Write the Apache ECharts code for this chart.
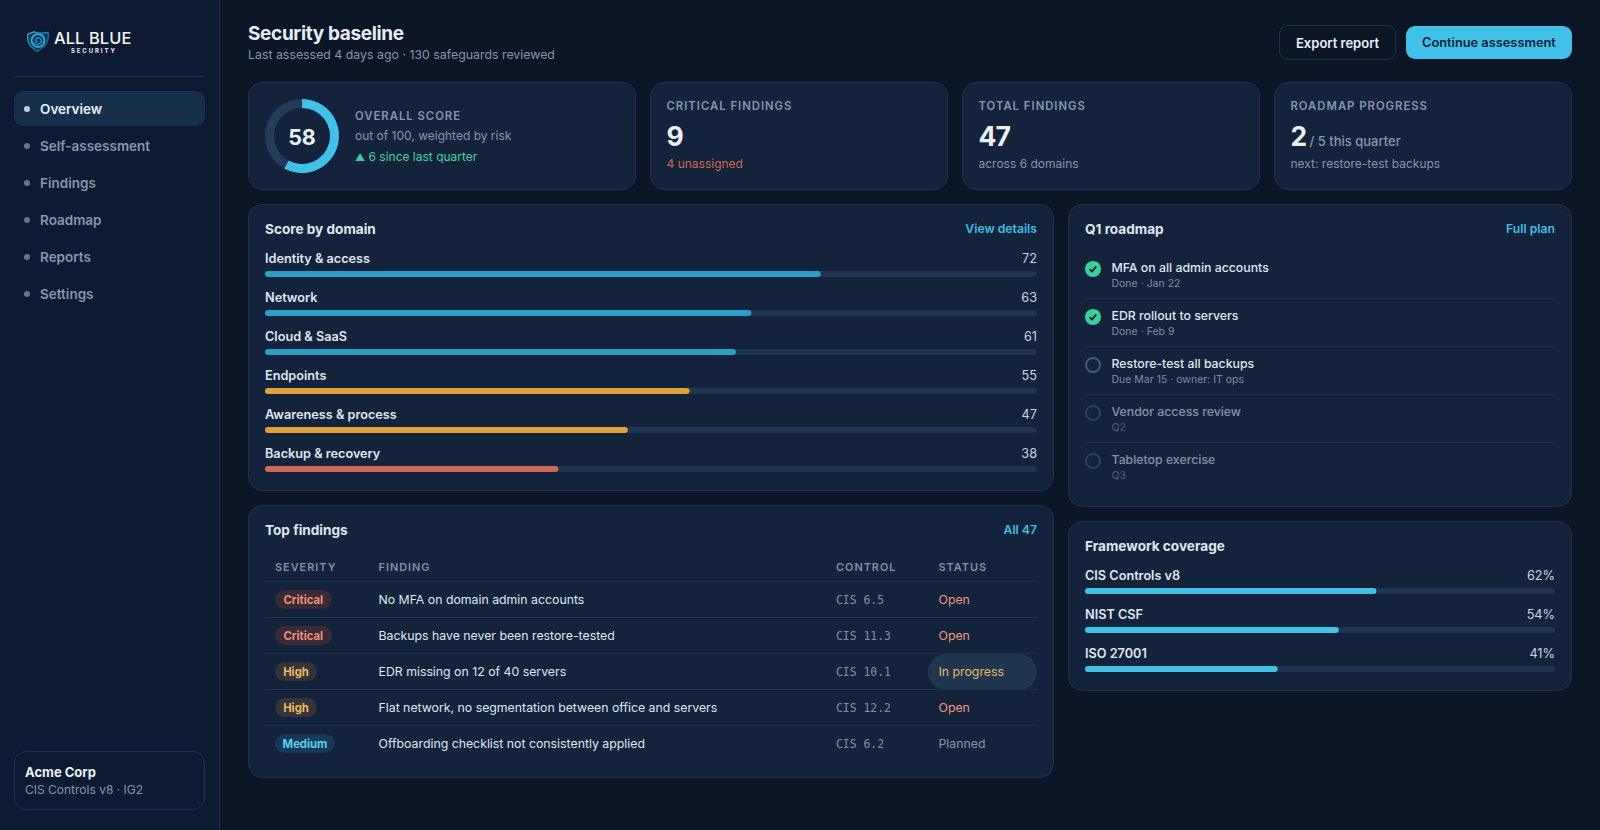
<!DOCTYPE html>
<html lang="en">
<head>
<meta charset="UTF-8">
<title>Security baseline</title>
<script src="https://cdn.jsdelivr.net/npm/echarts@6/dist/echarts.min.js"></script>
<style>
	html, body { margin: 0; padding: 0; background: #0a1526; overflow: hidden; }
	#page { position: relative; width: 1600px; height: 830px; overflow: hidden; font-family: Inter, "Noto Sans", sans-serif; color: #dfe7f2; background: #0a1526; }
	#page div, #page svg { position: absolute; }
	#page div { white-space: nowrap; }
	.t { line-height: 20px; height: 20px; }
	.side { left: 0; top: 0; width: 219px; height: 830px; background: #0c1b31; border-right: 1px solid #1b2c45; }
	.card { background: #12233b; border: 1px solid #1d3350; border-radius: 14px; box-sizing: border-box; }
	.h1 { font-size: 19px; font-weight: 700; letter-spacing: -0.35px; color: #e6edf6; }
	.sub { font-size: 12.35px; color: #8596ad; }
	.cap { font-size: 11.3px; font-weight: 600; letter-spacing: 1px; color: #8596ad; }
	.big { font-size: 26.5px; font-weight: 700; letter-spacing: -1px; color: #eaf0f8; line-height: 30px; height: 30px; }
	.small { font-size: 12px; color: #8596ad; }
	.sec { font-size: 13.6px; font-weight: 700; color: #dfe7f2; }
	.link { font-size: 12.2px; font-weight: 600; color: #3fbfe6; }
	.nav { font-size: 13.5px; font-weight: 600; color: #8596ad; }
	.th { font-size: 10.9px; font-weight: 600; letter-spacing: 1px; color: #8091a8; }
	.td { font-size: 12.3px; color: #dfe7f2; }
	.mono { font-family: "DejaVu Sans Mono", monospace; font-size: 11.4px; color: #8091a8; }
	.pill { font-size: 11.3px; font-weight: 700; height: 19px; line-height: 20px; border-radius: 10px; text-align: center; }
	.line { height: 1px; background: #1d3350; }
	.rt { font-size: 12.3px; font-weight: 500; color: #dfe7f2; }
	.rs { font-size: 10.5px; color: #7d8ea6; }
</style>
</head>
<body>
<div id="page"></div>
<script>
// data
var navItems = ['Overview', 'Self-assessment', 'Findings', 'Roadmap', 'Reports', 'Settings'];
var overallScore = 58;
var domainNames = ['Identity & access', 'Network', 'Cloud & SaaS', 'Endpoints', 'Awareness & process', 'Backup & recovery'];
var domainScores = [72, 63, 61, 55, 47, 38];
var frameworkNames = ['CIS Controls v8', 'NIST CSF', 'ISO 27001'];
var frameworkCoverage = [62, 54, 41];
var findingSeverity = ['Critical', 'Critical', 'High', 'High', 'Medium'];
var findingTitles = ['No MFA on domain admin accounts', 'Backups have never been restore-tested', 'EDR missing on 12 of 40 servers', 'Flat network, no segmentation between office and servers', 'Offboarding checklist not consistently applied'];
var findingControls = ['CIS 6.5', 'CIS 11.3', 'CIS 10.1', 'CIS 12.2', 'CIS 6.2'];
var findingStatus = ['Open', 'Open', 'In progress', 'Open', 'Planned'];
var roadmapTitles = ['MFA on all admin accounts', 'EDR rollout to servers', 'Restore-test all backups', 'Vendor access review', 'Tabletop exercise'];
var roadmapNotes = ['Done · Jan 22', 'Done · Feb 9', 'Due Mar 15 · owner: IT ops', 'Q2', 'Q3'];
var roadmapState = ['done', 'done', 'open', 'later', 'later'];

var page = document.getElementById('page');

function box(cls, x, y, w, h, css) {
	var d = document.createElement('div');
	d.className = cls;
	d.style.cssText = 'left:' + x + 'px;top:' + y + 'px;width:' + w + 'px;height:' + h + 'px;' + (css || '');
	page.appendChild(d);
	return d;
}
// text centred vertically on cy
function txt(cls, s, x, cy, css) {
	var d = document.createElement('div');
	d.className = 't ' + cls;
	d.style.cssText = 'left:' + x + 'px;top:' + (cy - 10) + 'px;' + (css || '');
	d.innerHTML = s;
	page.appendChild(d);
	return d;
}
function txtR(cls, s, xr, cy, css) {
	return txt(cls, s, 0, cy, 'left:auto;right:' + (1600 - xr) + 'px;' + (css || ''));
}

// sidebar
box('side', 0, 0, 219, 830);
page.insertAdjacentHTML('beforeend',
	'<svg style="left:26px;top:30px" width="24" height="23" viewBox="0 0 26 24">' +
	'<defs><linearGradient id="sg" x1="0" y1="0" x2="1" y2="1"><stop offset="0" stop-color="#2fb6e4"/><stop offset="1" stop-color="#0d4f82"/></linearGradient></defs>' +
	'<path d="M2 4 L9 1.5 Q15 4 24 2 Q25 12 20 17 L12 23 L5 17 Q1 12 2 4 Z" fill="#0e3354" stroke="url(#sg)" stroke-width="1.4"/>' +
	'<circle cx="13" cy="11" r="7" fill="none" stroke="#2fb0dc" stroke-width="2"/>' +
	'<path d="M8 13 Q13 18 17 12 Q16 7 12 8 Q9 10 12 13" fill="none" stroke="#1d8fc0" stroke-width="1.6"/></svg>');
txt('', 'ALL BLUE', 54, 38, 'font-size:16.4px;font-weight:500;color:#f2f5fa;letter-spacing:0.1px');
txt('', 'SECURITY', 71, 50.5, 'font-size:6px;font-weight:700;color:#e6edf6;letter-spacing:1.9px');
box('line', 14, 76, 191, 1, 'background:#1d3350');
box('', 14, 91, 191, 35, 'background:#15304a;border-radius:9px');
navItems.forEach(function (n, i) {
	var cy = 109 + i * 37;
	box('', 24, cy - 3, 6, 6, 'border-radius:50%;background:' + (i === 0 ? '#c4cdd9' : '#64758c'));
	txt('nav', n, 40, cy, i === 0 ? 'color:#eaf0f8' : '');
});
box('', 14, 751, 191, 59, 'border:1px solid #1d3350;border-radius:12px;box-sizing:border-box');
txt('', 'Acme Corp', 25, 772, 'font-size:13px;font-weight:700;color:#eaf0f8');
txt('small', 'CIS Controls v8 · IG2', 25, 789.5);

// header
txt('h1', 'Security baseline', 248, 34);
txt('sub', 'Last assessed 4 days ago · 130 safeguards reviewed', 248, 55);
box('', 1279, 25, 117, 35, 'border:1px solid #1d3350;border-radius:9px;box-sizing:border-box');
txt('', 'Export report', 1296, 42.5, 'font-size:13px;font-weight:600;color:#eaf0f8');
box('', 1406, 26, 166, 33, 'background:#41c0e8;border-radius:9px');
txt('', 'Continue assessment', 1422, 42.5, 'font-size:12.8px;font-weight:600;color:#0b2238');

// stat cards
box('card', 248, 82, 388, 108);
box('', 265, 99, 74, 74).id = 'donut';
txt('cap', 'OVERALL SCORE', 355, 115.7);
txt('small', 'out of 100, weighted by risk', 355, 135.5);
txt('small', '<span style="font-size:10px">▲</span> 6 since last quarter', 355, 156.5, 'color:#46cf9e');

box('card', 650, 82, 298, 108);
txt('cap', 'CRITICAL FINDINGS', 666.5, 105.7);
txt('big', '9', 666.5, 130.7);
txt('small', '4 unassigned', 666.5, 163.5, 'color:#cc6a55');

box('card', 962, 82, 298, 108);
txt('cap', 'TOTAL FINDINGS', 978.5, 105.7);
txt('big', '47', 978.5, 130.7);
txt('small', 'across 6 domains', 978.5, 163.5);

box('card', 1274, 82, 298, 108);
txt('cap', 'ROADMAP PROGRESS', 1290.5, 105.7);
txt('big', '2 <span style="font-size:13px;font-weight:500;letter-spacing:0;color:#8596ad;margin-left:-2px">/ 5 this quarter</span>', 1290.5, 130.7);
txt('small', 'next: restore-test backups', 1290.5, 163.5);

// score by domain
box('card', 248, 204, 806, 287);
txt('sec', 'Score by domain', 265, 229);
txtR('link', 'View details', 1037, 229);
box('', 265, 235, 772, 250).id = 'domainChart';

// top findings
box('card', 248, 505, 806, 273);
txt('sec', 'Top findings', 265, 530);
txtR('link', 'All 47', 1037, 530);
txt('th', 'SEVERITY', 275, 567);
txt('th', 'FINDING', 378.5, 567);
txt('th', 'CONTROL', 836, 567);
txt('th', 'STATUS', 938.5, 567);
var pillStyle = {
	Critical: { w: 56.5, bg: '#3a2a37', fg: '#f08f7c' },
	High: { w: 42, bg: '#34343a', fg: '#ecb95f' },
	Medium: { w: 60, bg: '#143a55', fg: '#5fcdf0' }
};
var statusColor = { 'Open': '#ef9a83', 'In progress': '#ecb95f', 'Planned': '#8596ad' };
box('line', 265, 581, 772, 1);
findingTitles.forEach(function (f, i) {
	var cy = 599.5 + i * 36;
	if (i < 4) box('line', 265, 617 + i * 36, 772, 1);
	var p = pillStyle[findingSeverity[i]];
	var pill = box('pill', 275, cy - 9.5, p.w, 19, 'background:' + p.bg + ';color:' + p.fg);
	pill.textContent = findingSeverity[i];
	txt('td', f, 378.5, cy + 0.5);
	txt('mono', findingControls[i], 836, cy);
	if (findingStatus[i] === 'In progress') box('', 928, cy - 18, 109, 36, 'background:#1f3650;border-radius:18px');
	txt('td', findingStatus[i], 938.5, cy + 0.5, 'color:' + statusColor[findingStatus[i]]);
});

// Q1 roadmap
box('card', 1068, 204, 504, 303);
txt('sec', 'Q1 roadmap', 1085, 229);
txtR('link', 'Full plan', 1555, 229);
roadmapTitles.forEach(function (r, i) {
	var cy = 269 + i * 48;
	var st = roadmapState[i];
	var icon;
	if (st === 'done') {
		icon = '<circle cx="9" cy="9" r="8" fill="#3fcf9c"/><path d="M5.6 9.2 L8 11.6 L12.2 6.4" fill="none" stroke="#0b2238" stroke-width="1.7"/>';
	} else {
		icon = '<circle cx="9" cy="9" r="7" fill="none" stroke="' + (st === 'open' ? '#3f5d78' : '#2a4460') + '" stroke-width="2"/>';
	}
	page.insertAdjacentHTML('beforeend', '<svg style="left:1084px;top:' + (cy - 9) + 'px" width="18" height="18">' + icon + '</svg>');
	var dim = st === 'later' ? 'opacity:.55;' : '';
	txt('rt', r, 1111.5, cy - 1, dim);
	txt('rs', roadmapNotes[i], 1111.5, cy + 14.5, dim);
	if (i < 4) box('line', 1085, 298 + i * 48, 470, 1, st === 'later' ? 'background:#1a2e48' : '');
});

// framework coverage
box('card', 1068, 521, 504, 170);
txt('sec', 'Framework coverage', 1085, 546);
box('', 1085, 555, 470, 125).id = 'frameworkChart';

// charts
var textFont = 'Inter';
var trackColor = '#1f3550';

function domainColor(v) {
	if (v >= 60) return '#2b9fc7';
	if (v >= 40) return '#e0a23c';
	return '#cc6a55';
}

// horizontal progress bars, names and values sit above each bar as axis labels
function barOption(names, values, fmt, gridTop, bandPx, colorFn) {
	var labels = values.map(fmt);
	return {
		animation: false,
		grid: { left: 0, right: 0, top: gridTop, height: bandPx * names.length, containLabel: false, outerBoundsMode: 'none' },
		xAxis: { type: 'value', min: 0, max: 100, show: false },
		yAxis: [
			{
				type: 'category', inverse: true, data: names, position: 'left',
				axisLine: { show: false }, axisTick: { show: false },
				axisLabel: { inside: true, interval: 0, margin: 0, align: 'left', verticalAlign: 'bottom', lineHeight: 32, fontFamily: textFont, fontSize: 12.7, fontWeight: 600, color: '#dfe7f2' }
			},
			{
				type: 'category', inverse: true, data: labels, position: 'right',
				axisLine: { show: false }, axisTick: { show: false },
				axisLabel: { inside: true, interval: 0, margin: 0, align: 'right', verticalAlign: 'bottom', lineHeight: 32, fontFamily: textFont, fontSize: 12.7, color: '#c9d5e4' }
			}
		],
		series: [{
			type: 'bar',
			data: values,
			barWidth: 6,
			silent: true,
			showBackground: true,
			backgroundStyle: { color: trackColor, borderRadius: 3 },
			itemStyle: { borderRadius: 3, color: function (p) { return colorFn(p.value); } }
		}]
	};
}

var domainChart = echarts.init(document.getElementById('domainChart'), null, { renderer: 'svg' });
domainChart.setOption(barOption(domainNames, domainScores, String, 19.5, 39, domainColor));

var frameworkChart = echarts.init(document.getElementById('frameworkChart'), null, { renderer: 'svg' });
frameworkChart.setOption(barOption(frameworkNames, frameworkCoverage, function (v) { return v + '%'; }, 16.5, 39, function () { return '#41c0e8'; }));

var donut = echarts.init(document.getElementById('donut'), null, { renderer: 'svg' });
donut.setOption({
	animation: false,
	title: { text: String(overallScore), left: 'center', top: 22, textStyle: { fontFamily: textFont, fontSize: 21.5, fontWeight: 700, color: '#eaf0f8' } },
	series: [{
		type: 'pie',
		radius: [28, 37],
		center: ['50%', '50%'],
		startAngle: 90,
		silent: true,
		label: { show: false },
		labelLine: { show: false },
		data: [
			{ value: overallScore, name: 'Score', itemStyle: { color: '#41c0e8' } },
			{ value: 100 - overallScore, name: 'Remaining', itemStyle: { color: '#223d57' } }
		]
	}]
});
</script>
</body>
</html>
